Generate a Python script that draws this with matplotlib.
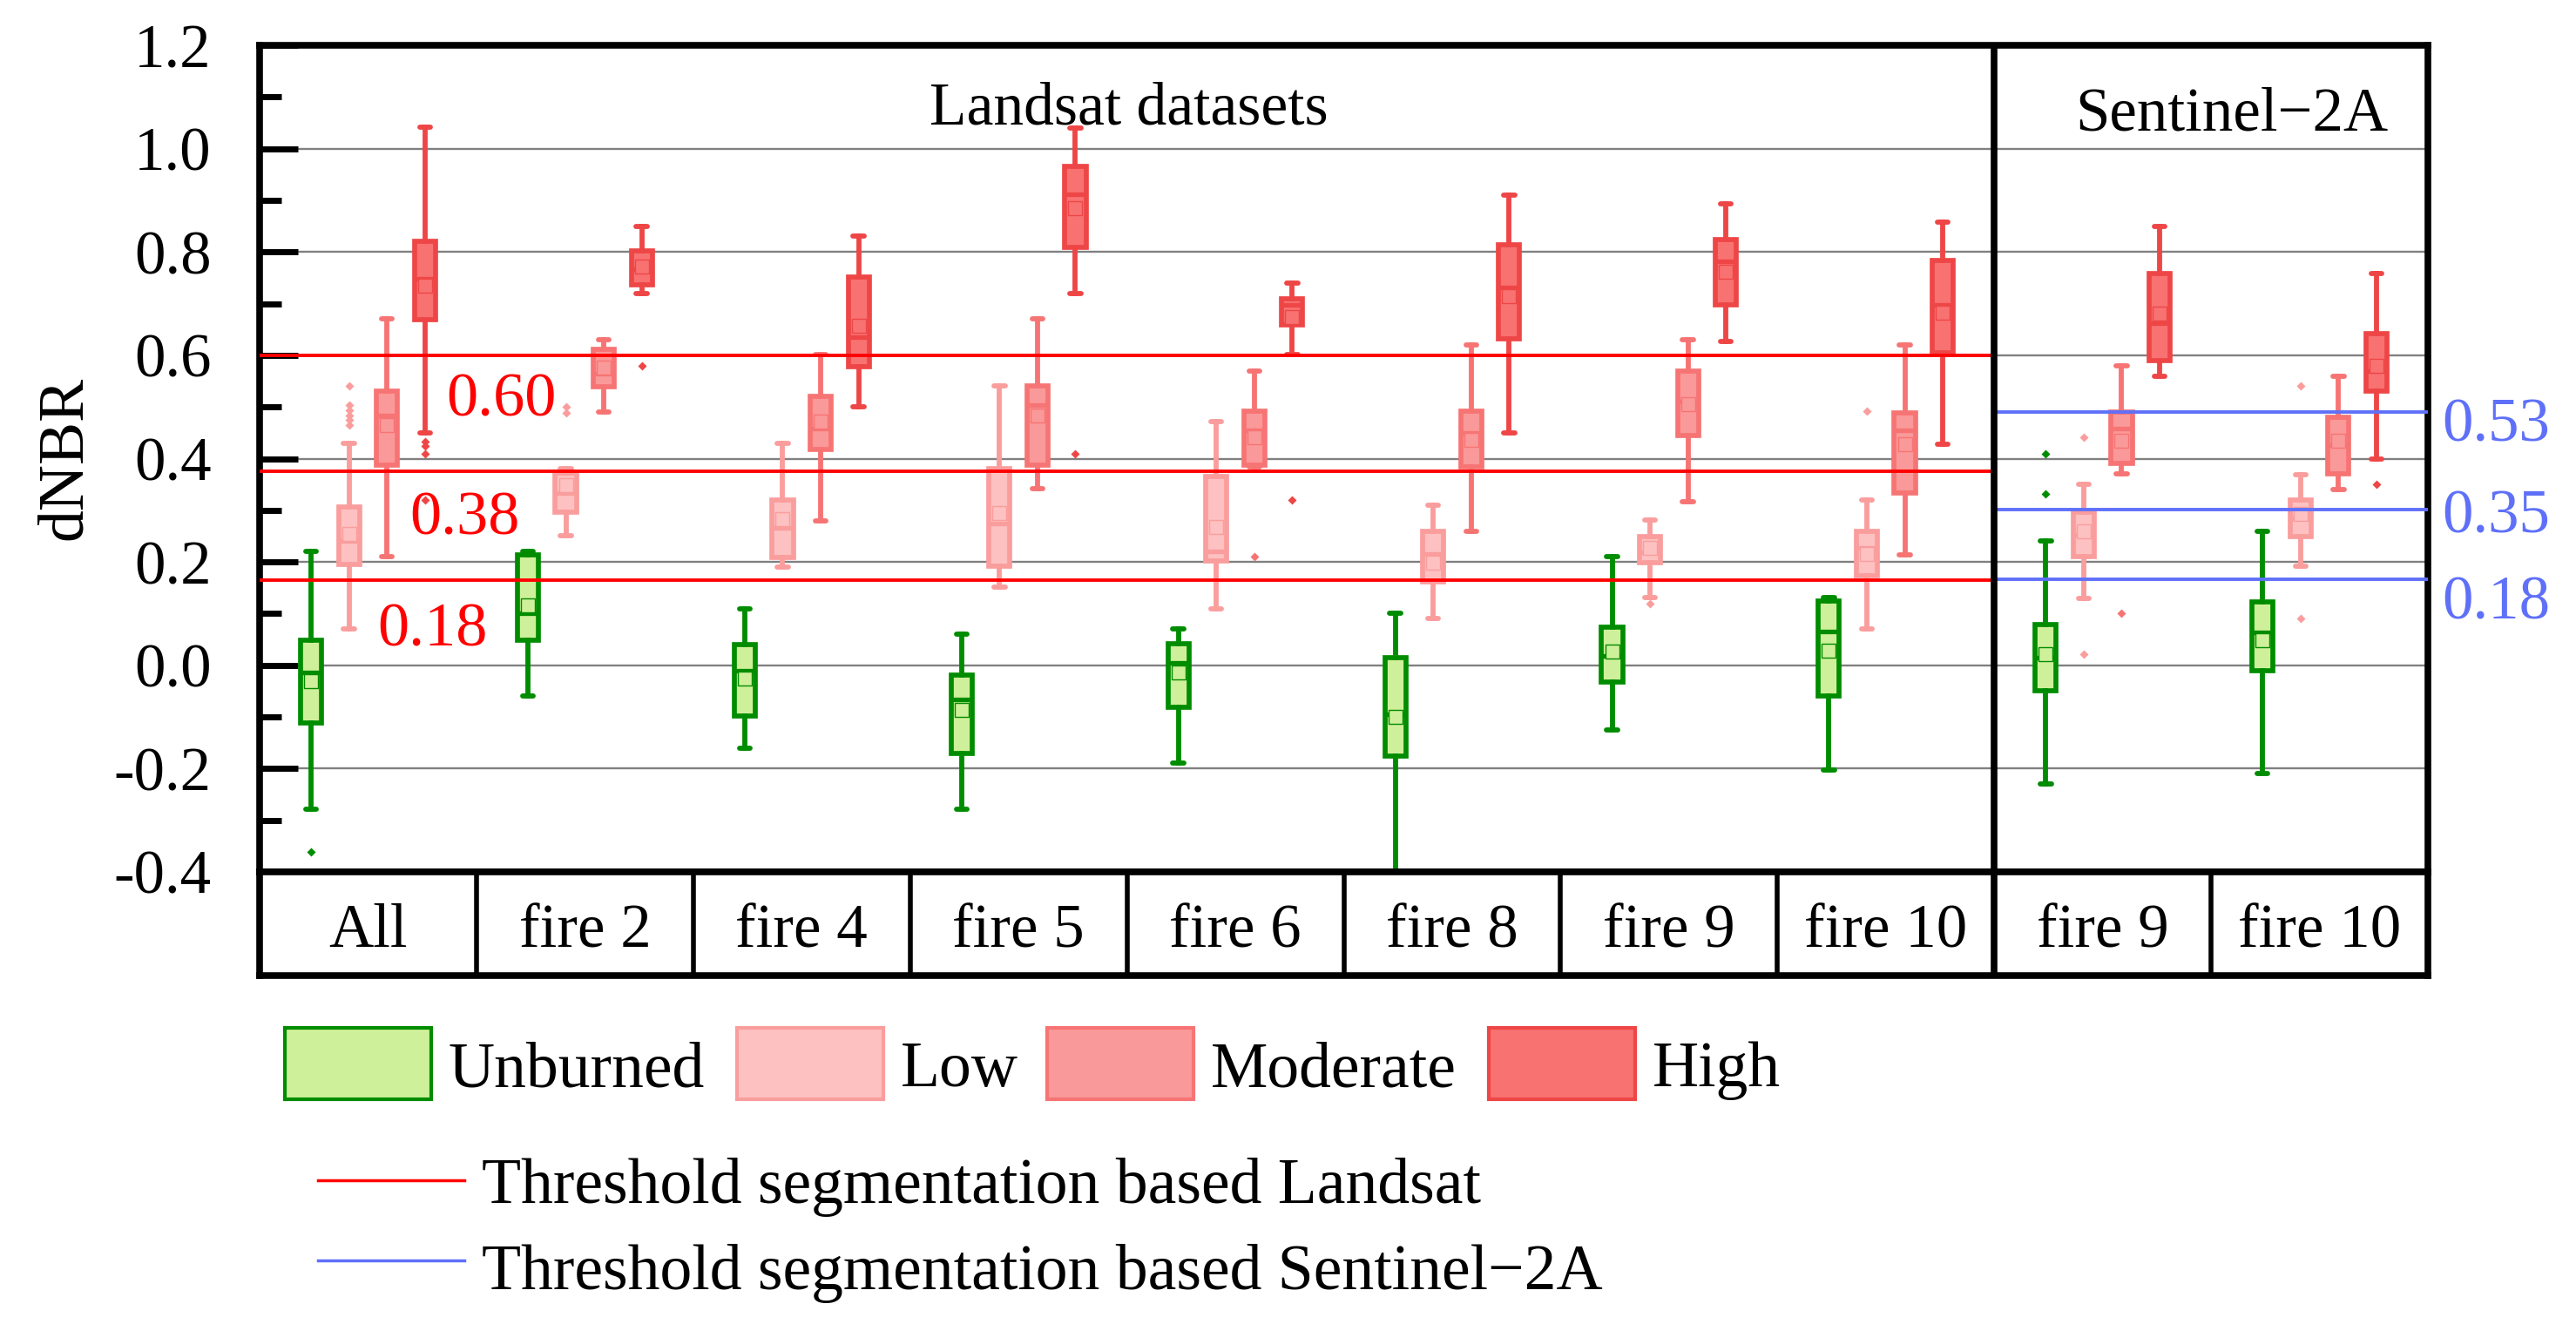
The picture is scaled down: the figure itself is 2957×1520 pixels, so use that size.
import numpy as np
import matplotlib
matplotlib.use("Agg")
import matplotlib.pyplot as plt
from matplotlib.patches import Rectangle

plt.rcParams["font.family"] = ["Liberation Serif", "DejaVu Serif"]
plt.rcParams["axes.unicode_minus"] = False

# categories (8 Landsat + 2 Sentinel-2A)
categories = ["All", "fire 2", "fire 4", "fire 5", "fire 6", "fire 8",
              "fire 9", "fire 10", "fire 9", "fire 10"]
classes = ["Unburned", "Low", "Moderate", "High"]

# box statistics, one row per class (Unburned, Low, Moderate, High)
whishi = [
    [0.221, 0.221, 0.110, 0.061, 0.071, 0.100, 0.210, 0.131, 0.240, 0.259],
    [0.429, 0.380, 0.429, 0.540, 0.471, 0.310, 0.281, 0.320, 0.351, 0.369],
    [0.670, 0.630, 0.602, 0.670, 0.569, 0.620, 0.630, 0.620, 0.579, 0.559],
    [1.041, 0.850, 0.830, 1.040, 0.740, 0.910, 0.893, 0.858, 0.849, 0.759],
]
q3 = [
    [0.049, 0.213, 0.040, -0.019, 0.041, 0.015, 0.073, 0.125, 0.079, 0.123],
    [0.307, 0.373, 0.320, 0.381, 0.366, 0.260, 0.249, 0.260, 0.296, 0.320],
    [0.531, 0.612, 0.520, 0.540, 0.492, 0.492, 0.569, 0.488, 0.490, 0.480],
    [0.821, 0.802, 0.751, 0.965, 0.709, 0.814, 0.824, 0.784, 0.759, 0.642],
]
med = [
    [-0.014, 0.100, -0.011, -0.067, 0.005, -0.095, 0.018, 0.065, 0.015, 0.064],
    [0.240, 0.333, 0.266, 0.275, 0.221, 0.215, 0.218, 0.227, 0.252, 0.284],
    [0.484, 0.565, 0.458, 0.503, 0.454, 0.450, 0.511, 0.455, 0.459, 0.426],
    [0.748, 0.766, 0.636, 0.911, 0.698, 0.731, 0.782, 0.698, 0.663, 0.570],
]
mean = [
    [-0.031, 0.116, -0.025, -0.086, -0.014, -0.100, 0.027, 0.029, 0.021, 0.049],
    [0.254, 0.348, 0.283, 0.294, 0.268, 0.198, 0.227, 0.215, 0.259, 0.293],
    [0.465, 0.576, 0.472, 0.484, 0.441, 0.437, 0.506, 0.427, 0.435, 0.435],
    [0.734, 0.771, 0.657, 0.885, 0.674, 0.715, 0.762, 0.683, 0.681, 0.580],
]
q1 = [
    [-0.112, 0.049, -0.099, -0.170, -0.081, -0.176, -0.033, -0.060, -0.049, -0.010],
    [0.195, 0.297, 0.209, 0.191, 0.202, 0.161, 0.198, 0.173, 0.210, 0.249],
    [0.388, 0.539, 0.418, 0.388, 0.388, 0.384, 0.445, 0.334, 0.390, 0.370],
    [0.669, 0.737, 0.578, 0.809, 0.658, 0.632, 0.698, 0.605, 0.589, 0.531],
]
whislo = [
    [-0.279, -0.059, -0.160, -0.278, -0.189, -0.450, -0.125, -0.202, -0.230, -0.210],
    [0.070, 0.251, 0.190, 0.151, 0.110, 0.091, 0.131, 0.071, 0.130, 0.191],
    [0.210, 0.490, 0.280, 0.342, 0.384, 0.260, 0.317, 0.213, 0.370, 0.340],
    [0.450, 0.719, 0.500, 0.719, 0.602, 0.450, 0.626, 0.427, 0.559, 0.400],
]
fliers = [
    [[-0.361], [], [], [], [], [], [], [], [0.410, 0.332], []],
    [[0.540, 0.503, 0.494, 0.484, 0.475, 0.465], [0.500, 0.489], [], [], [], [],
     [0.120], [0.492], [0.441, 0.021], [0.541, 0.091]],
    [[], [], [], [], [0.210], [], [], [], [0.100], []],
    [[0.433, 0.424, 0.409, 0.320], [0.579], [], [0.410], [0.320], [], [], [], [], [0.351]],
]

# thresholds (line position, label)
landsat_thr = [0.600, 0.375, 0.165]
landsat_lbl = ["0.60", "0.38", "0.18"]
s2_thr = [0.490, 0.302, 0.167]
s2_lbl = ["0.53", "0.35", "0.18"]

fills = ["#CFF09A", "#FDC1C1", "#FA9999", "#F87272"]
edges = ["#008C00", "#FA9D9D", "#F77474", "#EE4646"]
red = "#FF0000"
blue = "#5F70F8"

W, H = 2957, 1520
fig = plt.figure(figsize=(W / 100, H / 100), dpi=100)

L, R, T, B, B2 = 298, 2787, 52, 1001, 1120
ax = fig.add_axes([L / W, 1 - B / H, (R - L) / W, (B - T) / H])
cax = fig.add_axes([L / W, 1 - B2 / H, (R - L) / W, (B2 - B) / H])

x = np.arange(len(categories))
offsets = [-0.2625, -0.0875, 0.0875, 0.2625]
for k in range(4):
    stats = []
    for c in range(len(categories)):
        stats.append(dict(med=med[k][c], q1=q1[k][c], q3=q3[k][c],
                          whislo=whislo[k][c], whishi=whishi[k][c],
                          mean=mean[k][c], fliers=fliers[k][c]))
    ax.bxp(stats, positions=x + offsets[k], widths=0.097, capwidths=0.05,
           patch_artist=True, showmeans=True, manage_ticks=False,
           boxprops=dict(facecolor=fills[k], edgecolor=edges[k], linewidth=4.1),
           whiskerprops=dict(color=edges[k], linewidth=4.2),
           capprops=dict(color=edges[k], linewidth=4.2, solid_capstyle="round"),
           medianprops=dict(color=edges[k], linewidth=3.8),
           meanprops=dict(marker="s", markersize=11, markerfacecolor=fills[k],
                          markeredgecolor=edges[k], markeredgewidth=1.0),
           flierprops=dict(marker="D", markersize=5.5, markerfacecolor=edges[k],
                           markeredgecolor="none"),
           zorder=3)

ax.set_xlim(-0.5, 9.5)
ax.set_ylim(-0.4, 1.2)
ax.set_xticks([])
ax.set_yticks(np.arange(-0.4, 1.21, 0.2))
ax.set_yticks(np.arange(-0.3, 1.2, 0.2), minor=True)
ax.yaxis.set_major_formatter(matplotlib.ticker.FormatStrFormatter("%.1f"))
ax.tick_params(axis="y", which="major", direction="in", length=32, width=5,
               labelsize=51, pad=40)
ax.tick_params(axis="y", which="minor", direction="in", length=18, width=5)
ax.set_axisbelow(True)
ax.yaxis.grid(True, color="#808080", linewidth=1.7)
for s in ax.spines.values():
    s.set_linewidth(5.5)

# panel divider and thresholds
ax.axvline(7.5, color="black", linewidth=5.5, zorder=6)
ax.hlines(landsat_thr, -0.5, 7.5, color=red, linewidth=2.8, zorder=5)
ax.hlines(s2_thr, 7.5, 9.5, color=blue, linewidth=2.8, zorder=5)

for yv, lbl, xv, yb in zip(landsat_thr, landsat_lbl, [0.613, 0.446, 0.298],
                           [0.482, 0.254, 0.037]):
    ax.text(xv, yb, lbl, color=red, fontsize=52, ha="center", va="baseline")
for lbl, yb in zip(s2_lbl, [0.434, 0.256, 0.090]):
    ax.text(9.565, yb, lbl, color=blue, fontsize=51, ha="left", va="baseline",
            clip_on=False)

ax.text(3.508, 1.048, "Landsat datasets", fontsize=50, ha="center", va="baseline")
ax.text(8.596, 1.035, "Sentinel\u22122A", fontsize=51, ha="center", va="baseline")

# category label row
cax.set_xlim(-0.5, 9.5)
cax.set_ylim(0, 1)
cax.set_xticks([])
cax.set_yticks([])
for s in cax.spines.values():
    s.set_linewidth(5.5)
for b in np.arange(0.5, 9.0, 1.0):
    cax.axvline(b, color="black", linewidth=5.5 if b == 7.5 else 4)
for i, name in enumerate(categories):
    cax.text(i, 0.277, name, fontsize=51, ha="center", va="baseline")

fig.text(75 / W, 1 - 526 / H, "dNBR", fontsize=53, rotation=90,
         ha="center", va="center")

# legend drawn in pixel space
lax = fig.add_axes([0, 0, 1, 1])
lax.set_xlim(0, W)
lax.set_ylim(H, 0)
lax.axis("off")
patch_x = [327, 846, 1202, 1709]
for k in range(4):
    lax.add_patch(Rectangle((patch_x[k], 1180), 168, 82, facecolor=fills[k],
                            edgecolor=edges[k], linewidth=3))
    lax.text(patch_x[k] + 188, 1247, classes[k], fontsize=53, ha="left",
             va="baseline")
lax.plot([365, 533], [1355, 1355], color=red, linewidth=2.5)
lax.text(553, 1381, "Threshold segmentation based Landsat", fontsize=53,
         ha="left", va="baseline")
lax.plot([365, 533], [1447, 1447], color=blue, linewidth=2.5)
lax.text(553, 1480, "Threshold segmentation based Sentinel\u22122A", fontsize=53,
         ha="left", va="baseline")

fig.savefig("out.png", dpi=100)
